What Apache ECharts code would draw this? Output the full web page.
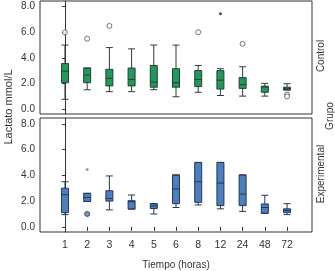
<!DOCTYPE html>
<html>
<head>
<meta charset="utf-8">
<script src="https://cdn.jsdelivr.net/npm/echarts@6/dist/echarts.min.js"></script>
<style>
  html, body { margin: 0; padding: 0; background: #fff; }
  #chart { width: 335px; height: 271px; }
</style>
</head>
<body>
<div id="chart"></div>
<script>
// categorias de tiempo (horas)
const tiempos = ['1', '2', '3', '4', '5', '6', '8', '12', '24', '48', '72'];
const yTicks = [0, 2, 4, 6, 8];

// [min, Q1, mediana, Q3, max]
const controlBox = [
  [0.75, 2.05, 2.95, 3.55, 5.0],
  [1.5, 2.05, 2.65, 3.2, 3.2],
  [1.35, 1.8, 2.4, 3.1, 4.8],
  [1.35, 1.8, 2.3, 3.2, 4.7],
  [1.5, 1.7, 2.1, 3.4, 5.0],
  [0.95, 1.7, 2.05, 3.15, 5.0],
  [1.3, 1.75, 2.3, 3.0, 3.4],
  [1.05, 1.55, 2.25, 3.0, 3.15],
  [1.0, 1.6, 1.9, 2.45, 3.3],
  [1.0, 1.3, 1.7, 1.78, 2.0],
  [1.48, 1.48, 1.58, 1.7, 1.97]
];
const experimentalBox = [
  [0.95, 1.1, 2.5, 3.0, 3.5],
  [1.97, 1.97, 2.28, 2.6, 2.6],
  [1.32, 2.0, 2.2, 2.8, 3.95],
  [1.38, 1.38, 1.95, 2.03, 2.47],
  [1.0, 1.42, 1.62, 1.8, 1.8],
  [1.5, 1.8, 2.95, 4.03, 4.03],
  [1.7, 1.9, 3.5, 5.0, 5.0],
  [1.4, 1.65, 3.4, 5.0, 5.0],
  [1.2, 1.65, 2.55, 4.03, 4.03],
  [1.05, 1.05, 1.5, 1.78, 2.45],
  [0.95, 1.1, 1.27, 1.4, 1.8]
];

// atipicos: [indice de tiempo, valor]
const controlOutliers = [[0, 6.0], [1, 5.5], [2, 6.5], [6, 6.0], [8, 5.1], [10, 1.12], [10, 0.97]];
const controlExtremes = [[7, 7.45]];
const experimentalOutliers = [[1, 1.0]];
const experimentalExtremes = [[1, 4.45]];

const positions = tiempos.map((t, i) => i);
const font = 'Liberation Sans, Arial, sans-serif';

const myChart = echarts.init(document.getElementById('chart'));

function xAxisFor(idx) {
  const showIt = idx === 1;
  return {
    gridIndex: idx,
    type: 'value',
    min: -1.125,
    max: 11.125,
    splitLine: {show: false},
    axisLine: {show: false},
    axisTick: {show: showIt, customValues: positions, length: 4, lineStyle: {color: '#333'}},
    axisLabel: {
      show: showIt, customValues: positions, margin: 8,
      fontSize: 10.5, color: '#333', fontFamily: font,
      formatter: (v) => tiempos[v]
    },
    name: showIt ? 'Tiempo (horas)' : '',
    nameLocation: 'middle',
    nameGap: 28,
    nameTextStyle: {fontSize: 10, color: '#333', fontFamily: font}
  };
}

function yAxisFor(idx) {
  return {
    gridIndex: idx,
    type: 'value',
    min: -0.4,
    max: 8.45,
    splitLine: {show: false},
    axisLine: {show: true, lineStyle: {color: '#333'}},
    axisTick: {show: true, customValues: yTicks, length: 3, lineStyle: {color: '#333'}},
    axisLabel: {
      customValues: yTicks, margin: 5,
      fontSize: 10, color: '#333', fontFamily: font,
      formatter: (v) => v.toFixed(1)
    }
  };
}

function boxSeries(idx, data, fill, border) {
  return {
    type: 'boxplot',
    xAxisIndex: idx,
    yAxisIndex: idx,
    boxWidth: [7, 7],
    data: data.map((d, i) => [i].concat(d)),
    itemStyle: {color: fill, borderColor: border, borderWidth: 1},
    emphasis: {disabled: true}
  };
}

function dotSeries(idx, data, size, style) {
  return {
    type: 'scatter',
    xAxisIndex: idx,
    yAxisIndex: idx,
    symbol: 'circle',
    symbolSize: size,
    data: data,
    itemStyle: style,
    z: 5
  };
}

const option = {
  animation: false,
  grid: [
    {left: 40, top: 1, width: 272, height: 113, show: true, borderColor: '#333', borderWidth: 1},
    {left: 40, top: 118, width: 272, height: 114, show: true, borderColor: '#333', borderWidth: 1}
  ],
  xAxis: [xAxisFor(0), xAxisFor(1)],
  yAxis: [yAxisFor(0), yAxisFor(1)],
  series: [
    boxSeries(0, controlBox, '#1f9a5b', '#2d3d35'),
    boxSeries(1, experimentalBox, '#4d7fbf', '#23385a'),
    dotSeries(0, controlOutliers, 5, {color: '#fff', borderColor: '#555', borderWidth: 1}),
    dotSeries(0, controlExtremes, 3, {color: '#222'}),
    dotSeries(1, experimentalOutliers, 5, {color: '#4d7fbf', borderColor: '#333', borderWidth: 1}),
    dotSeries(1, experimentalExtremes, 3, {color: '#888'})
  ],
  graphic: [
    {type: 'text', x: 9, y: 107, rotation: Math.PI / 2,
      style: {text: 'Lactato mmol/L', fill: '#333', font: '11px ' + font, textAlign: 'center', textVerticalAlign: 'middle'}},
    {type: 'text', x: 321, y: 56, rotation: Math.PI / 2,
      style: {text: 'Control', fill: '#333', font: '10px ' + font, textAlign: 'center', textVerticalAlign: 'middle'}},
    {type: 'text', x: 321, y: 174, rotation: Math.PI / 2,
      style: {text: 'Experimental', fill: '#333', font: '10px ' + font, textAlign: 'center', textVerticalAlign: 'middle'}},
    {type: 'text', x: 330, y: 116, rotation: Math.PI / 2,
      style: {text: 'Grupo', fill: '#333', font: '10px ' + font, textAlign: 'center', textVerticalAlign: 'middle'}}
  ]
};

myChart.setOption(option);
</script>
</body>
</html>
